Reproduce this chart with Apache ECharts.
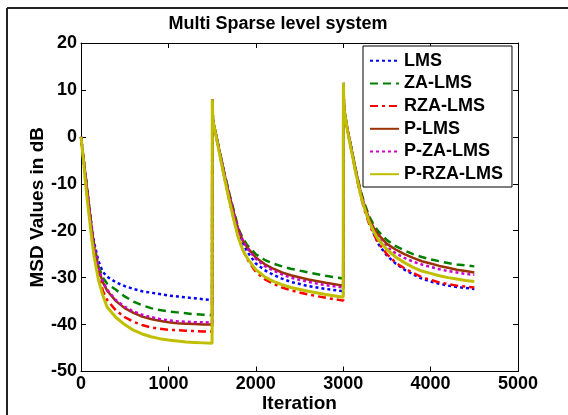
<!DOCTYPE html>
<html>
<head>
<meta charset="utf-8">
<script src="https://cdn.jsdelivr.net/npm/echarts@6/dist/echarts.min.js"></script>
<style>html,body{margin:0;padding:0;background:#fff;}#c{width:568px;height:415px;}</style>
</head>
<body>
<div id="c"></div>
<script>
const iters = [0,25,50,75,100,125,150,200,250,300,400,500,600,700,800,900,1000,1100,1200,1300,1400,1500,
 1502,1510,1550,1600,1650,1700,1750,1800,1850,1900,2000,2100,2200,2300,2400,2600,2800,3000,
 3002,3010,3050,3100,3150,3200,3250,3300,3350,3400,3500,3600,3700,3800,3900,4000,4100,4200,4300,4400,4500];

const lms = [0,-4,-8,-12,-16,-19.5,-22.5,-26.5,-28.8,-29.8,-31,-31.8,-32.4,-32.9,-33.2,-33.5,-33.8,-34,-34.2,-34.4,-34.6,-34.8,
 8,3.5,0,-4.3,-8.6,-12.6,-16.4,-20,-22.5,-24.4,-27,-28.4,-29.4,-30.2,-30.9,-31.8,-32.4,-32.9,
 11.5,6,1.5,-3,-7.8,-12,-15.3,-18,-20.6,-22.8,-25.3,-27,-28.3,-29.3,-30.2,-30.8,-31.3,-31.7,-32,-32.2,-32.4];
const zaLms = [0,-4,-8,-12,-16,-19.8,-23,-27.5,-30,-31.3,-32.6,-34,-35.1,-35.9,-36.5,-36.9,-37.2,-37.4,-37.6,-37.8,-37.9,-38,
 8,3.5,0,-4.3,-8.5,-12.3,-15.8,-19.5,-21.5,-23,-25,-26.2,-27,-27.6,-28.1,-28.9,-29.6,-30.2,
 11.5,6,1.5,-3,-7.5,-11.5,-14.5,-17,-18.8,-20.1,-22,-23.3,-24.2,-25,-25.6,-26.1,-26.5,-26.9,-27.2,-27.4,-27.6];
const rzaLms = [0,-4.2,-8.5,-12.5,-16.5,-20.5,-24,-29,-32.8,-34.8,-37,-38.4,-39.4,-40.1,-40.6,-40.9,-41.1,-41.2,-41.3,-41.4,-41.5,-41.5,
 8,3.5,-0.3,-5,-9.5,-13.8,-17.7,-21.3,-24,-26,-28.8,-30.3,-31.3,-32.1,-32.7,-33.6,-34.3,-34.9,
 11.5,6,1.2,-3.5,-8.3,-12.6,-16,-18.7,-20.8,-22.5,-25,-26.8,-28,-29,-29.9,-30.5,-31,-31.4,-31.7,-31.9,-32.1];
const pLms = [0,-4,-8,-12,-16,-20,-23.5,-28.2,-31,-32.8,-35,-36.5,-37.5,-38.3,-38.8,-39.2,-39.5,-39.7,-39.8,-39.9,-40,-40,
 8,3.5,0,-4.4,-8.7,-12.6,-16.3,-19.8,-22,-23.5,-25.7,-27.1,-28.1,-28.9,-29.5,-30.4,-31.1,-31.7,
 11.5,6,1.5,-3.1,-7.7,-11.8,-15,-17.6,-19.4,-20.8,-22.8,-24,-25,-25.8,-26.5,-27,-27.5,-27.9,-28.3,-28.6,-28.9];
const pZaLms = [0,-4,-8,-12,-16,-20,-23.3,-28,-30.8,-32.6,-34.8,-36.2,-37.2,-37.9,-38.4,-38.8,-39.1,-39.3,-39.4,-39.5,-39.5,-39.6,
 8,3.5,0,-4.4,-8.7,-12.7,-16.4,-19.8,-22.1,-23.7,-26,-27.5,-28.5,-29.3,-30,-30.9,-31.6,-32.1,
 11.5,6,1.4,-3.2,-7.9,-12,-15.3,-18,-20,-21.5,-23.5,-24.8,-25.8,-26.6,-27.2,-27.7,-28.2,-28.6,-28.9,-29.2,-29.4];
const pRzaLms = [0,-4.5,-9.5,-14,-18,-22,-25.5,-30.5,-33.8,-36.3,-38.5,-40,-41.2,-42,-42.6,-43,-43.3,-43.5,-43.7,-43.8,-43.9,-44,
 8,3.5,-0.3,-5,-9.5,-13.8,-17.8,-21.5,-24,-25.8,-28.3,-29.8,-30.8,-31.5,-32.1,-32.9,-33.6,-34.2,
 11.5,6,1.2,-3.5,-8.2,-12.4,-15.6,-18.2,-20.2,-21.8,-24,-25.6,-26.8,-27.8,-28.6,-29.1,-29.6,-30,-30.3,-30.6,-30.8];

const seriesNames = ['LMS','ZA-LMS','RZA-LMS','P-LMS','P-ZA-LMS','P-RZA-LMS'];
const seriesValues = [lms, zaLms, rzaLms, pLms, pZaLms, pRzaLms];
const xTicks = [0,1000,2000,3000,4000,5000];
const yTicks = [-50,-40,-30,-20,-10,0,10,20];

const styles = [
  {color:'#0000ff', type:[3,3], width:2.5},
  {color:'#008000', type:[8,5], width:2.5},
  {color:'#ff0000', type:[8,4,3,4], width:2.5},
  {color:'#993300', type:'solid', width:2.5},
  {color:'#cc00cc', type:[3,3], width:2.5},
  {color:'#bfbf00', type:'solid', width:3}
];

const FONT = '"Liberation Sans", Arial, sans-serif';
const chart = echarts.init(document.getElementById('c'), null, {renderer:'canvas'});

const axisCommon = {
  axisLine:{show:true, onZero:false, lineStyle:{color:'#000', width:1}},
  axisTick:{show:true, inside:true, length:5, lineStyle:{color:'#000'}},
  splitLine:{show:false}
};

const option = {
  animation:false,
  backgroundColor:'#fff',
  title:{
    text:'Multi Sparse level system', left:273, top:10, textAlign:'center',
    textStyle:{fontFamily:FONT, fontWeight:'bold', fontSize:18, color:'#000'}
  },
  legend:{
    orient:'vertical', left:363, top:46,
    backgroundColor:'#fff', borderColor:'#000', borderWidth:1,
    padding:[5.7,9,3.8,6], itemWidth:29, itemHeight:14, itemGap:4.7,
    itemStyle:{opacity:0},
    textStyle:{fontFamily:FONT, fontWeight:'bold', fontSize:18, color:'#000'},
    data:seriesNames
  },
  grid:{left:81, top:43, width:437, height:328.5, containLabel:false, outerBoundsMode:'none'},
  xAxis:[
    Object.assign({type:'value', min:0, max:5000, interval:1000, position:'bottom',
      name:'Iteration', nameLocation:'middle', nameGap:23, nameMoveOverlap:false,
      nameTextStyle:{fontFamily:FONT, fontWeight:'bold', fontSize:19, color:'#000', verticalAlign:'top'},
      axisLabel:{fontFamily:FONT, fontWeight:'bold', fontSize:18, color:'#000', margin:4,
        formatter:v=>xTicks.includes(v)?String(v):''}}, axisCommon),
    Object.assign({type:'value', min:0, max:5000, interval:1000, position:'top', axisLabel:{show:false}}, axisCommon)
  ],
  yAxis:[
    Object.assign({type:'value', min:-50, max:20, interval:10, position:'left',
      name:'MSD Values in dB', nameLocation:'middle', nameGap:34, nameRotate:90, nameMoveOverlap:false,
      nameTextStyle:{fontFamily:FONT, fontWeight:'bold', fontSize:19, color:'#000'},
      axisLabel:{fontFamily:FONT, fontWeight:'bold', fontSize:18, color:'#000', margin:4,
        formatter:v=>yTicks.includes(v)?String(v):''}}, axisCommon),
    Object.assign({type:'value', min:-50, max:20, interval:10, position:'right', axisLabel:{show:false}}, axisCommon)
  ],
  graphic:[
    {type:'line', shape:{x1:7, y1:8, x2:568, y2:8}, style:{stroke:'#222', lineWidth:2}, z:-10, silent:true},
    {type:'line', shape:{x1:7, y1:8, x2:7, y2:415}, style:{stroke:'#222', lineWidth:2}, z:-10, silent:true}
  ],
  series: seriesNames.map((n,i)=>({
    name:n, type:'line', symbol:'none', xAxisIndex:0, yAxisIndex:0,
    data: iters.map((x,j)=>[x, seriesValues[i][j]]),
    lineStyle:styles[i], itemStyle:{color:styles[i].color},
    z: 2+i
  }))
};
chart.setOption(option);
</script>
</body>
</html>
